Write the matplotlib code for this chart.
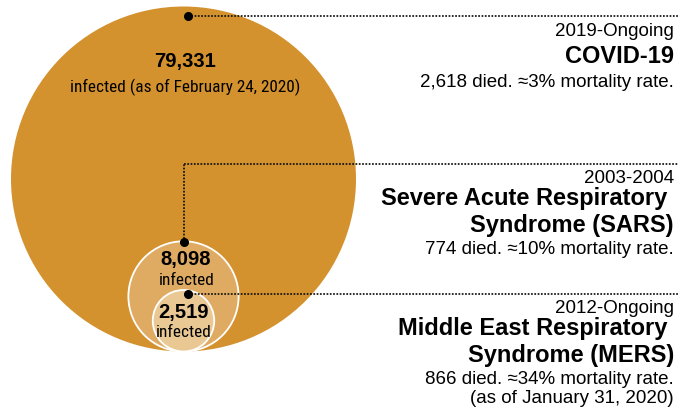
import numpy as np
import matplotlib.pyplot as plt
from matplotlib import font_manager
from matplotlib.font_manager import FontProperties
from matplotlib.patches import Circle

# data
diseases = ["COVID-19", "SARS", "MERS"]
periods = ["2019-Ongoing", "2003-2004", "2012-Ongoing"]
titles = ["COVID-19",
          "Severe Acute Respiratory \nSyndrome (SARS)",
          "Middle East Respiratory \nSyndrome (MERS)"]
infected = [79331, 8098, 2519]
died = [2618, 774, 866]
mortality = ["≈3%", "≈10%", "≈34%"]
infected_notes = ["infected (as of February 24, 2020)", "infected", "infected"]
extra_notes = ["", "", "(as of January 31, 2020)"]

colors = ["#D4922F", "#DFAB63", "#E9C894"]

plt.rcParams["font.family"] = ["Liberation Sans", "DejaVu Sans"]

# look for a condensed sans for the labels inside the circles
narrow_fp, narrow_size, narrow_tag = None, 11, "none"
prefs = ["liberationsansnarrow-regular", "robotocondensed-regular",
         "dejavusanscondensed.", "opensans_condensed-regular", "opensans-condensed"]
files = [f.fname for f in font_manager.fontManager.ttflist]
for p in prefs:
    hits = [fn for fn in files if p in fn.lower().replace(" ", "")]
    if hits:
        narrow_fp = FontProperties(fname=hits[0])
        narrow_tag = p
        break
if narrow_fp is None:
    narrow_fp = FontProperties(family="Liberation Sans")
else:
    narrow_size = 13 if "liberation" in narrow_tag else 12.4

fig = plt.figure(figsize=(6.8, 4.13), dpi=100)
ax = fig.add_axes([0, 0, 1, 1])
ax.set_xlim(0, 680)
ax.set_ylim(413, 0)
ax.axis("off")

# circles: area ~ value, all touching at the bottom
big_r = 172.5
cx, bottom = 183.5, 351.5
radii = big_r * np.sqrt(np.array(infected) / infected[0])
for i, r in enumerate(radii):
    cy = bottom - r
    ec = "none" if i == 0 else "white"
    ax.add_patch(Circle((cx, cy), r, facecolor=colors[i], edgecolor=ec,
                        lw=1.3, zorder=1 + i))

# number labels inside circles
num_base = [66.7, 265, 318.3]
note_base = [91.7, 285, 337]
num_x = [185, 185.8, 183.3]
for i in range(3):
    ax.text(num_x[i], num_base[i], f"{infected[i]:,}", ha="center", va="baseline",
            fontsize=14.5, fontweight="bold", zorder=10)
    ax.text(num_x[i] + 0.5, note_base[i], infected_notes[i], ha="center", va="baseline",
            fontproperties=narrow_fp, fontsize=narrow_size, zorder=10)

# connectors
dot_pos = [(188, 16), (183.5, 242), (188, 294)]
line_y = [16, 164.3, 294.3]
x_end = 678
lstyle = dict(color="#111111", lw=1.25, dashes=(1.0, 0.9), zorder=11)
for i, (dx, dy) in enumerate(dot_pos):
    if i == 1:
        ax.plot([dx, dx], [dy, line_y[i]], **lstyle)
        ax.plot([dx, x_end], [line_y[i], line_y[i]], **lstyle)
    else:
        ax.plot([dx, x_end], [dy, dy], **lstyle)
    ax.plot(dx, dy, "o", color="black", ms=5.5, zorder=12)

# right-side text blocks
xr = 674
body = 13.5
period_base = [36, 183, 313]
title_base = [[63], [205, 232], [335, 362]]
died_base = [87, 254, 384]
extra_base = [None, None, 403]
for i in range(3):
    ax.text(xr, period_base[i], periods[i], ha="right", va="baseline", fontsize=body)
    for line, yb in zip(titles[i].split("\n"), title_base[i]):
        ax.text(xr, yb, line, ha="right", va="baseline", fontsize=17, fontweight="bold")
    ax.text(xr, died_base[i], f"{died[i]:,} died. {mortality[i]} mortality rate.",
            ha="right", va="baseline", fontsize=body)
    if extra_notes[i]:
        ax.text(xr, extra_base[i], extra_notes[i], ha="right", va="baseline", fontsize=body)

fig.savefig("out.png", dpi=100)
